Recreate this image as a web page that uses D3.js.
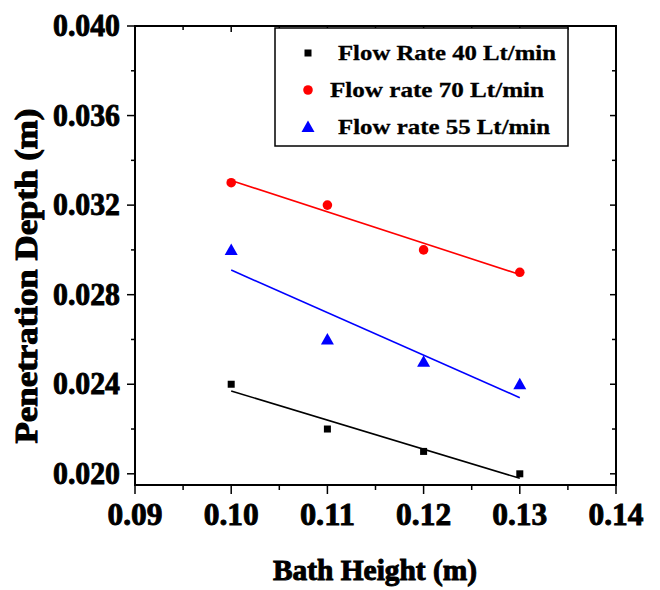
<!DOCTYPE html>
<html>
<head>
<meta charset="utf-8">
<script src="https://cdn.jsdelivr.net/npm/d3@7"></script>
<style>
  html, body { margin: 0; padding: 0; background: #fff; }
  svg { display: block; }
  text { font-family: "Liberation Serif", "Times New Roman", serif; font-weight: bold; }
</style>
</head>
<body>
<svg id="chart" width="660" height="590"></svg>
<script>
// ---- data ----
const bathHeight = [0.10, 0.11, 0.12, 0.13];
const flow40 = [0.024, 0.022, 0.021, 0.020];
const flow70 = [0.033, 0.032, 0.030, 0.029];
const flow55 = [0.030, 0.026, 0.025, 0.024];
const seriesNames = ["Flow Rate 40 Lt/min", "Flow rate 70 Lt/min", "Flow rate 55 Lt/min"];
const xTicks = [0.09, 0.10, 0.11, 0.12, 0.13, 0.14];
const yTicks = [0.020, 0.024, 0.028, 0.032, 0.036, 0.040];

const series = [
  { name: seriesNames[0], values: flow40, color: "#000000", shape: "square" },
  { name: seriesNames[1], values: flow70, color: "#ff0000", shape: "circle" },
  { name: seriesNames[2], values: flow55, color: "#0000ff", shape: "triangle" }
];

const svg = d3.select("#chart");
const L = 135, R = 616, T = 26, B = 485;

const x = d3.scaleLinear().domain([0.09, 0.14]).range([L, R]);
const y = d3.scaleLinear().domain([0.0195, 0.040]).range([B, T]);

const g = svg.append("g");

// linear least squares fit
function fit(xs, ys) {
  const n = xs.length;
  const mx = d3.mean(xs), my = d3.mean(ys);
  let sxy = 0, sxx = 0;
  for (let i = 0; i < n; i++) { sxy += (xs[i]-mx)*(ys[i]-my); sxx += (xs[i]-mx)**2; }
  const b = sxy / sxx, a = my - b*mx;
  return v => a + b*v;
}

// fit lines
series.forEach(s => {
  const f = fit(bathHeight, s.values);
  const x0 = d3.min(bathHeight), x1 = d3.max(bathHeight);
  g.append("line")
    .attr("x1", x(x0)).attr("y1", y(f(x0)))
    .attr("x2", x(x1)).attr("y2", y(f(x1)))
    .attr("stroke", s.color).attr("stroke-width", 1.6);
});

function marker(sel, shape, color, cx, cy) {
  if (shape === "square") {
    sel.append("rect").attr("x", cx-3.5).attr("y", cy-3.5).attr("width", 7).attr("height", 7).attr("fill", color);
  } else if (shape === "circle") {
    sel.append("path").attr("d", d3.symbol(d3.symbolCircle, 72)()).attr("transform", `translate(${cx},${cy})`).attr("fill", color);
  } else {
    sel.append("path").attr("d", `M0,-6.5L6.5,5L-6.5,5Z`).attr("transform", `translate(${cx},${cy})`).attr("fill", color);
  }
}

series.forEach(s => {
  s.values.forEach((v, i) => marker(g, s.shape, s.color, x(bathHeight[i]), y(v)));
});

// axes frame
const ax = svg.append("g");
ax.append("rect").attr("x", L).attr("y", T).attr("width", R-L).attr("height", B-T)
  .attr("fill", "none").attr("stroke", "#000").attr("stroke-width", 2);

const xMinor = d3.range(0, 5).map(i => xTicks[i] + 0.005);
const yMinor = d3.range(0, 5).map(i => yTicks[i] + 0.002);

// bottom ticks (outward)
xTicks.forEach(t => ax.append("line").attr("x1", x(t)).attr("x2", x(t)).attr("y1", B).attr("y2", B+9).attr("stroke", "#000").attr("stroke-width", 1.5));
xMinor.forEach(t => ax.append("line").attr("x1", x(t)).attr("x2", x(t)).attr("y1", B).attr("y2", B+5).attr("stroke", "#000").attr("stroke-width", 1.5));
// top ticks (inward)
xTicks.forEach(t => ax.append("line").attr("x1", x(t)).attr("x2", x(t)).attr("y1", T).attr("y2", T+6).attr("stroke", "#000").attr("stroke-width", 1.5));
xMinor.forEach(t => ax.append("line").attr("x1", x(t)).attr("x2", x(t)).attr("y1", T).attr("y2", T+4).attr("stroke", "#000").attr("stroke-width", 1.5));
// left ticks (outward)
yTicks.forEach(t => ax.append("line").attr("y1", y(t)).attr("y2", y(t)).attr("x1", L).attr("x2", L-8).attr("stroke", "#000").attr("stroke-width", 1.5));
yMinor.forEach(t => ax.append("line").attr("y1", y(t)).attr("y2", y(t)).attr("x1", L).attr("x2", L-4).attr("stroke", "#000").attr("stroke-width", 1.5));
// right ticks (inward)
yTicks.forEach(t => ax.append("line").attr("y1", y(t)).attr("y2", y(t)).attr("x1", R).attr("x2", R-6).attr("stroke", "#000").attr("stroke-width", 1.5));
yMinor.forEach(t => ax.append("line").attr("y1", y(t)).attr("y2", y(t)).attr("x1", R).attr("x2", R-4).attr("stroke", "#000").attr("stroke-width", 1.5));

// tick labels
const fmtY = d3.format(".3f"), fmtX = d3.format(".2f");
yTicks.forEach(t => ax.append("text").attr("x", L-15).attr("y", y(t)+10)
  .attr("text-anchor", "end").attr("font-size", 31).attr("stroke", "#000").attr("stroke-width", 0.9)
  .attr("textLength", 67).attr("lengthAdjust", "spacingAndGlyphs")
  .text(fmtY(t)));
xTicks.forEach(t => ax.append("text").attr("x", x(t)).attr("y", 525)
  .attr("text-anchor", "middle").attr("font-size", 31).attr("stroke", "#000").attr("stroke-width", 0.9)
  .attr("textLength", 55).attr("lengthAdjust", "spacingAndGlyphs")
  .text(fmtX(t)));

// axis titles
svg.append("text").attr("x", 375).attr("y", 580).attr("text-anchor", "middle")
  .attr("font-size", 30).attr("stroke", "#000").attr("stroke-width", 1)
  .attr("textLength", 204).attr("lengthAdjust", "spacingAndGlyphs")
  .text("Bath Height (m)");
svg.append("text").attr("transform", "translate(37,276) rotate(-90)").attr("text-anchor", "middle")
  .attr("font-size", 31).attr("stroke", "#000").attr("stroke-width", 1)
  .attr("textLength", 335).attr("lengthAdjust", "spacingAndGlyphs")
  .text("Penetration Depth (m)");

// legend
const lg = svg.append("g");
lg.append("rect").attr("x", 275).attr("y", 28).attr("width", 293).attr("height", 118)
  .attr("fill", "#fff").attr("stroke", "#000").attr("stroke-width", 1.5);
const legY = [53, 90, 127];
const legTextX = [338, 330, 338];
const legTextW = [218, 214, 212];
series.forEach((s, i) => {
  marker(lg, s.shape, s.color, 308, legY[i]);
  lg.append("text").attr("x", legTextX[i]).attr("y", legY[i] + 7)
    .attr("font-size", 21).attr("stroke", "#000").attr("stroke-width", 0.3)
    .attr("textLength", legTextW[i]).attr("lengthAdjust", "spacingAndGlyphs")
    .text(s.name);
});
</script>
</body>
</html>
